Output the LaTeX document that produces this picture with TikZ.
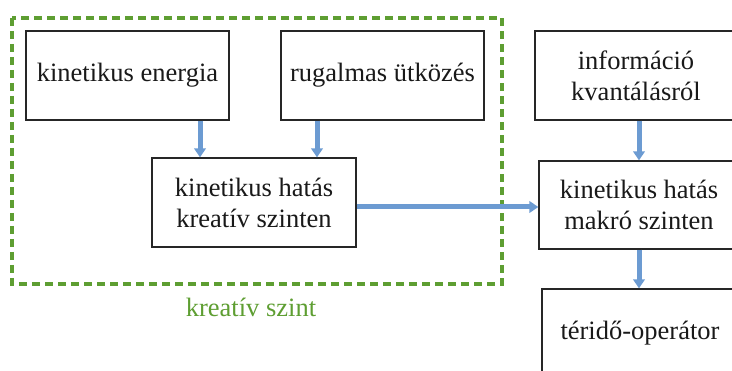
\documentclass[tikz,border=0pt]{standalone}
\usepackage{fontspec}
\setmainfont{Liberation Serif}
\usetikzlibrary{arrows.meta,calc}
\definecolor{arrblue}{HTML}{6C9BD2}
\definecolor{grn}{HTML}{5E9E32}
\begin{document}
\begin{tikzpicture}[x=1pt,y=-1pt,
  box/.style={draw=black!85,line width=1.3pt,minimum width=#1,minimum height=89pt,inner sep=0pt,align=center,font=\fontsize{26.5}{31}\selectfont,text=black!90},
  box/.default=203pt,
  arr/.style={draw=arrblue,line width=5pt,-{Triangle[width=11.5pt,length=9pt]}},
  grp/.style={draw=grn,line width=4pt,dash pattern=on 8pt off 5pt}]
\useasboundingbox (0,0) rectangle (732,371);
\draw[grp] (12,18) rectangle (502,284);
\node[box] (b1) at (127.5,75.5) {kinetikus energia};
\node[box] (b2) at (382.5,75.5) {rugalmas ütközés};
\node[box=204pt] (b3) at (254,202.5) {kinetikus hatás\\kreatív szinten};
\node[box=202pt] (b4) at (636,75.5) {információ\\kvantálásról};
\node[box=200pt,minimum height=88pt] (b5) at (639,205) {kinetikus hatás\\makró szinten};
\node[box=196pt,minimum height=88pt] (b6) at (640,333) {téridő-operátor};
\node[text=grn,font=\fontsize{26.5}{31}\selectfont] (lbl) at (251,307) {kreatív szint};
\draw[arr] ([xshift=72.5pt]b1.south) -- ([xshift=72.5pt]b1.south |- b3.north);
\draw[arr] ([xshift=-65.5pt]b2.south) -- ([xshift=-65.5pt]b2.south |- b3.north);
\draw[arr] (b3.east |- 0,207) -- (b5.west |- 0,207);
\draw[arr] (b4.south -| 639,0) -- (b5.north);
\draw[arr] (b5.south) -- (b6.north -| b5.south);
\end{tikzpicture}
\end{document}
